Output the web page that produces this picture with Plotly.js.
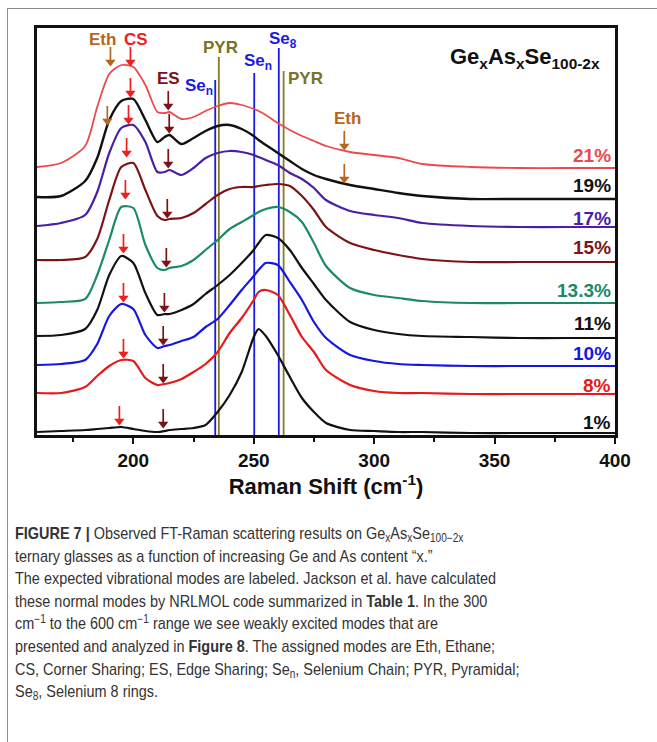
<!DOCTYPE html>
<html>
<head>
<meta charset="utf-8">
<script src="https://cdn.plot.ly/plotly-3.0.1.min.js"></script>
<style>
  html, body { margin:0; padding:0; background:#fff; width:657px; height:742px; overflow:hidden; }
  #frame { position:absolute; left:7px; top:8px; width:700px; height:760px;
           border-top:1.5px solid #8c8c8c; border-left:1.5px solid #8c8c8c; pointer-events:none; }
  #chart { position:absolute; left:0; top:0; width:657px; height:500px; }
  #caption { position:absolute; left:15px; top:523px; color:#333;
             font-family:"Liberation Sans",Arial,sans-serif;
             font-size:17px; line-height:22.6px; white-space:nowrap;
             transform:scaleX(0.85); transform-origin:0 0; }
  #caption sub { font-size:70%; vertical-align:-3px; line-height:0; }
  #caption sup { font-size:70%; vertical-align:6px; line-height:0; }
</style>
</head>
<body>
<div id="chart"></div>
<div id="frame"></div>
<div id="caption">
<b>FIGURE 7 |</b> Observed FT-Raman scattering results on Ge<sub>x</sub>As<sub>x</sub>Se<sub>100−2x</sub><br>
ternary glasses as a function of increasing Ge and As content “x.”<br>
The expected vibrational modes are labeled. Jackson et al. have calculated<br>
these normal modes by NRLMOL code summarized in <b>Table 1</b>. In the 300<br>
cm<sup>−1</sup> to the 600 cm<sup>−1</sup> range we see weakly excited modes that are<br>
presented and analyzed in <b>Figure 8</b>. The assigned modes are Eth, Ethane;<br>
CS, Corner Sharing; ES, Edge Sharing; Se<sub>n</sub>, Selenium Chain; PYR, Pyramidal;<br>
Se<sub>8</sub>, Selenium 8 rings.
</div>
<script>
// Raman shift (cm^-1) sample points
const shift = [160,170,180,185,190,195,200,205,210,213,215,220,225,230,235,240,245,250,252,255,260,265,270,275,280,290,300,310,320,340,360,380,400];

// Offset-stacked Raman intensities (a.u.) for each composition x
const comp = ["21%","19%","17%","15%","13.3%","11%","10%","8%","1%"];
const s21  = [268,272,289,328,361,370,368,350,323,322,323,316,318,324,329,332,330,326,324,320,312,305,299,294,289,283,280,277,271,268,267,267,267];
const s19  = [238,239,254,277,315,334,336,315,293,298,300,291,297,304,309,310,306,299,295,290,282,274,266,260,256,250,246,242,239,236,236,236,236];
const s17  = [209,212,220,243,282,307,310,293,263,263,265,260,267,277,282,284,283,280,278,275,270,262,256,247,235,224,220,217,212,209,208,208,208];
const s15  = [175,175,178,196,235,268,272,245,219,215,216,217,222,231,240,246,248,248,249,250,251,249,239,225,208,192,185,180,176,173,173,173,173];
const s133 = [132,133,136,160,195,228,227,190,167,165,167,169,175,185,195,206,213,220,223,226,228,223,213,192,169,147,140,137,134,132,132,132,132];
const s11  = [99,100,106,125,160,179,172,142,120,121,121,125,131,141,150,160,172,185,192,200,197,185,167,151,135,113,105,101,99,98,97,97,97];
const s10  = [70,71,75,91,119,131,126,100,87,89,90,94,98,108,116,130,145,159,165,172,170,153,135,113,97,80,74,71,70,69,69,69,69];
const s8   = [42,42,48,59,69,75,74,57,50,51,52,56,63,71,83,102,117,135,143,145,140,120,98,83,65,50,44,42,42,41,41,41,41];
const s1   = [3,4,5,6,7,8,6,4,3,4,5,6,7,10,23,40,63,98,106,99,80,58,37,23,12,5,4,3,3,2,2,2,2];
const series = [s21,s19,s17,s15,s133,s11,s10,s8,s1];
const colors = ["#ea4a4e","#111111","#4a1fa6","#7c1417","#1b8a66","#111111","#1616e4","#e61a1a","#111111"];
const widths = [1.8,2.4,2.2,2.2,2.2,2.2,2.2,2.2,2.2];

// Vibrational mode reference lines (cm^-1) and their label heights (a.u.)
const modeName = ["Se<sub>n</sub>","PYR","Se<sub>n</sub>","Se<sub>8</sub>","PYR"];
const modeX    = [234,235.5,250.2,260.4,262.4];
const modeTop  = [355,378,362,387,364];
const modeCol  = ["#1a1ae6","#857b2c","#1a1ae6","#1a1ae6","#857b2c"];

// Arrow tips (cm^-1, a.u.)
const csX = [198.8,198.8,198.0,197.2,196.7,195.9,195.9,195.9,194.2];
const csY = [369,338,311,278,236,182,133,77,10];
const esX = [214.5,214.9,214.5,214.1,213.7,212.9,212.4,212.4,212.4];
const esY = [325,302,267,217,168,123,90,52,7];
const ethX = [190.5,189.2,287.6,287.6];
const ethY = [369,310,285,252];

const labelY = [280,250,217,188,145,112,82,50,13];

const traces = [];
for (let i=0;i<modeX.length;i++){
  traces.push({x:[modeX[i],modeX[i]], y:[0,modeTop[i]], mode:'lines', type:'scatter',
    line:{color:modeCol[i], width:1.8}, hoverinfo:'skip'});
}
series.forEach((s,i)=>{
  traces.push({x:shift, y:s, mode:'lines', type:'scatter', name:comp[i],
    line:{color:colors[i], width:widths[i], shape:'spline', smoothing:0.7}});
});

// arrows: shaft + downward triangle head, drawn on the axes
function arrows(xs, ys, col){
  const sx=[], sy=[];
  xs.forEach((x,i)=>{ sx.push(x,x,null); sy.push(ys[i]+19, ys[i]+5, null); });
  traces.push({x:sx, y:sy, mode:'lines', type:'scatter', line:{color:col, width:1.7}, hoverinfo:'skip'});
  traces.push({x:xs, y:ys.map(v=>v+4), mode:'markers', type:'scatter',
    marker:{symbol:'triangle-down', size:9, color:col, line:{width:0}}, hoverinfo:'skip'});
}
arrows(csX, csY, "#f21c1c");
arrows(esX, esY, "#7d1113");
arrows(ethX, ethY, "#b8651e");

const B = "Liberation Sans, Arial, sans-serif";
const ann = [];
function lab(x,y,t,col,size,anchor){
  ann.push({x:x,y:y,xref:'x',yref:'y',text:t,showarrow:false,xanchor:anchor||'center',yanchor:'middle',
    font:{family:B,size:size,color:col,weight:'bold'}});
}
lab(187.1,396,"Eth","#b8651e",17);
lab(200.9,396,"CS","#f21c1c",17);
lab(214.5,357,"ES","#7d1113",17);
lab(227.2,348,modeName[0],"#1a1ae6",17);
lab(236.2,388,modeName[1],"#7a7226",17);
lab(251.6,373,modeName[2],"#1a1ae6",17);
lab(262.0,395,modeName[3],"#1a1ae6",17);
lab(271.6,357,modeName[4],"#7a7226",17);
lab(288.8,317,"Eth","#b8651e",17);
lab(394.5,377,"Ge<sub>x</sub>As<sub>x</sub>Se<sub>100-2x</sub>","#111",22,'right');
comp.forEach((c,i)=>lab(399,labelY[i],c,colors[i],19,'right'));

const layout = {
  width:657, height:500,
  margin:{l:37, r:42, t:28, b:65},
  paper_bgcolor:'rgba(0,0,0,0)', plot_bgcolor:'#ffffff',
  showlegend:false,
  font:{family:B, color:'#111'},
  xaxis:{range:[160,400], dtick:50, tick0:0, ticks:'outside', ticklen:6, tickwidth:2, tickcolor:'#111',
    minor:{dtick:25, tick0:0, ticks:'outside', ticklen:4, tickwidth:2, tickcolor:'#111'},
    showgrid:false, zeroline:false, showline:true, mirror:true, linewidth:3, linecolor:'#111',
    tickfont:{family:B, size:19, color:'#111', weight:'bold'},
    title:{text:'Raman Shift (cm<sup>-1</sup>)', font:{family:B, size:22, color:'#111', weight:'bold'}, standoff:6}},
  yaxis:{range:[0,407], showticklabels:false, ticks:'', showgrid:false, zeroline:false,
    showline:true, mirror:true, linewidth:3, linecolor:'#111'},
  annotations:ann
};
Plotly.newPlot('chart', traces, layout, {staticPlot:true, displayModeBar:false});
</script>
</body>
</html>
